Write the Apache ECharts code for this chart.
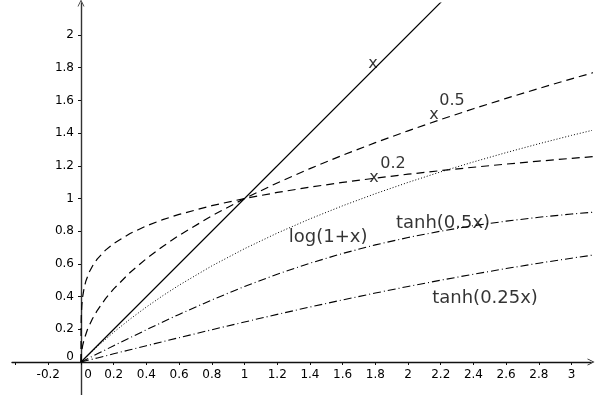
<!DOCTYPE html>
<html>
<head>
<meta charset="utf-8">
<script src="https://cdn.jsdelivr.net/npm/echarts@6/dist/echarts.min.js"></script>
<style>html,body{margin:0;padding:0;background:#fff}#c{width:597px;height:395px}</style>
</head>
<body>
<div id="c"></div>
<script>
// ---- data ----
const xTickValues = [-0.4,-0.2,0,0.2,0.4,0.6,0.8,1,1.2,1.4,1.6,1.8,2,2.2,2.4,2.6,2.8,3];
const xLabelValues = [-0.2,0,0.2,0.4,0.6,0.8,1,1.2,1.4,1.6,1.8,2,2.2,2.4,2.6,2.8,3];
const yTickValues = [0,0.2,0.4,0.6,0.8,1,1.2,1.4,1.6,1.8,2];

const xLinear = [0, 2.4];
const yLinear = [0, 2.4];

const xFine = [0,0.0001,0.0005,0.001,0.002,0.005,0.01,0.02,0.03,0.05,0.075,0.1,0.15,0.2,0.3,0.4,0.5,0.6,0.8,1,1.2,1.4,1.6,1.8,2,2.2,2.4,2.6,2.8,3,3.2];
const yPow02 = [0,0.1585,0.2187,0.2512,0.2885,0.3466,0.3981,0.4573,0.4959,0.5493,0.5957,0.6310,0.6843,0.7248,0.7860,0.8326,0.8706,0.9029,0.9564,1,1.0371,1.0696,1.0986,1.1247,1.1487,1.1708,1.1914,1.2106,1.2287,1.2457,1.2619];

const xSqrt = [0,0.001,0.005,0.01,0.02,0.04,0.07,0.1,0.15,0.2,0.3,0.4,0.5,0.6,0.8,1,1.2,1.4,1.6,1.8,2,2.2,2.4,2.6,2.8,3,3.2];
const ySqrt = [0,0.0316,0.0707,0.1,0.1414,0.2,0.2646,0.3162,0.3873,0.4472,0.5477,0.6325,0.7071,0.7746,0.8944,1,1.0954,1.1832,1.2649,1.3416,1.4142,1.4832,1.5492,1.6125,1.6733,1.7321,1.7889];

const xCoarse = [0,0.1,0.2,0.3,0.4,0.5,0.6,0.8,1,1.2,1.4,1.6,1.8,2,2.2,2.4,2.6,2.8,3,3.2];
const yLog = [0,0.0953,0.1823,0.2624,0.3365,0.4055,0.4700,0.5878,0.6931,0.7885,0.8755,0.9555,1.0296,1.0986,1.1632,1.2238,1.2809,1.3350,1.3863,1.4351];
const yTanh05 = [0,0.0500,0.0997,0.1489,0.1974,0.2449,0.2913,0.3799,0.4621,0.5370,0.6044,0.6640,0.7163,0.7616,0.8005,0.8337,0.8617,0.8854,0.9051,0.9217];
const yTanh025 = [0,0.0250,0.0500,0.0749,0.0997,0.1244,0.1489,0.1974,0.2449,0.2913,0.3364,0.3799,0.4219,0.4621,0.5005,0.5370,0.5717,0.6044,0.6351,0.6640];

const annoText = ['x','0.5','x','0.2','x','log(1+x)','tanh(0.5x)','tanh(0.25x)'];
const annoX = [1.786,2.269,2.159,1.908,1.792,1.511,2.214,2.471];
const annoY = [1.823,1.596,1.511,1.211,1.125,0.765,0.850,0.391];
const annoBig = [false,false,false,false,false,true,true,true];

// ---- chart ----
const pairs = (xs, ys) => xs.map((x, i) => [x, ys[i]]);
const font = 'DejaVu Sans';
const chevron = 'path://M0,10 L5,0 L10,10 L8.8,10 L5,2.4 L1.2,10 Z';

const chart = echarts.init(document.getElementById('c'), null, {renderer: 'canvas'});
chart.setOption({
  animation: false,
  backgroundColor: '#fff',
  grid: {left: 12, right: 6, top: 3, bottom: 0, containLabel: false, outerBoundsMode: 'none'},
  xAxis: {
    type: 'value', min: -0.422, max: 3.119, position: 'bottom', offset: -33,
    axisLine: {onZero: false, lineStyle: {color: '#111', width: 1.4}, symbol: ['none', chevron], symbolSize: [7, 7]},
    axisTick: {show: true, length: 3, customValues: xTickValues, lineStyle: {color: '#111'}},
    axisLabel: {
      customValues: xLabelValues, margin: 7, color: '#000', fontSize: 12, fontFamily: font,
      formatter: v => v === 0 ? '{z|0}' : String(v),
      rich: {z: {padding: [0, 0, 0, 14], fontSize: 12, fontFamily: font, color: '#000'}}
    },
    splitLine: {show: false}
  },
  yAxis: {
    type: 'value', min: -0.2018, max: 2.196, position: 'left', offset: -69,
    axisLine: {onZero: false, lineStyle: {color: '#333', width: 1.4}, symbol: ['none', chevron], symbolSize: [7, 7]},
    axisTick: {show: true, length: 3, customValues: yTickValues, lineStyle: {color: '#111'}},
    axisLabel: {
      customValues: yTickValues, margin: 7, color: '#000', fontSize: 12, fontFamily: font,
      formatter: v => v === 0 ? '{z|0}' : String(v),
      rich: {z: {padding: [0, 0, 10, 0], fontSize: 12, fontFamily: font, color: '#000'}}
    },
    splitLine: {show: false}
  },
  series: [
    {type: 'line', data: pairs(xLinear, yLinear), showSymbol: false, lineStyle: {color: '#000', width: 1.2, type: 'solid'}},
    {type: 'line', data: pairs(xSqrt, ySqrt), showSymbol: false, lineStyle: {color: '#000', width: 1.2, type: [8, 5]}},
    {type: 'line', data: pairs(xFine, yPow02), showSymbol: false, lineStyle: {color: '#000', width: 1.2, type: [8, 5]}},
    {type: 'line', data: pairs(xCoarse, yLog), showSymbol: false, lineStyle: {color: '#000', width: 1, type: [1, 2]}},
    {type: 'line', data: pairs(xCoarse, yTanh05), showSymbol: false, lineStyle: {color: '#000', width: 1.1, type: [8, 3, 1, 3]}},
    {type: 'line', data: pairs(xCoarse, yTanh025), showSymbol: false, lineStyle: {color: '#000', width: 1.1, type: [8, 3, 1, 3]}},
    {
      type: 'scatter', symbolSize: 1, itemStyle: {color: 'rgba(0,0,0,0)'}, silent: true,
      data: annoText.map((t, i) => ({
        name: t, value: [annoX[i], annoY[i]],
        label: {fontSize: annoBig[i] ? 18 : 16}
      })),
      label: {show: true, position: 'inside', formatter: '{b}', color: '#000', fontSize: 16, fontFamily: font}
    }
  ]
});
</script>
</body>
</html>
